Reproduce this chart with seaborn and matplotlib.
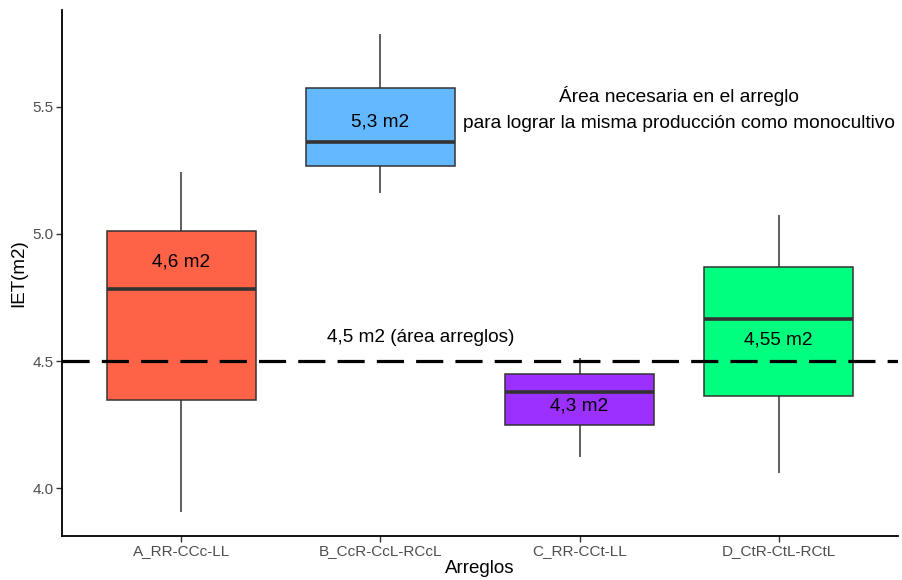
import matplotlib
matplotlib.use("Agg")
import matplotlib.pyplot as plt
import seaborn as sns
import pandas as pd

categories = ["A_RR-CCc-LL", "B_CcR-CcL-RCcL", "C_RR-CCt-LL", "D_CtR-CtL-RCtL"]
# five-number summaries: min, q1, median, q3, max
vals_A = [3.905, 4.345, 4.784, 5.012, 5.242]
vals_B = [5.163, 5.266, 5.362, 5.575, 5.787]
vals_C = [4.123, 4.250, 4.380, 4.448, 4.514]
vals_D = [4.060, 4.363, 4.667, 4.869, 5.073]
colors = ["#FF6347", "#63B8FF", "#9B30FF", "#00FF7F"]
box_labels = ["4,6 m2", "5,3 m2", "4,3 m2", "4,55 m2"]
box_label_y = [4.89, 5.44, 4.323, 4.583]
ref_value = 4.5
ref_label = "4,5 m2 (área arreglos)"
note_text = "Área necesaria en el arreglo\npara lograr la misma producción como monocultivo"

rows = []
for cat, v in zip(categories, [vals_A, vals_B, vals_C, vals_D]):
    for x in v:
        rows.append({"Arreglos": cat, "IET": x})
df = pd.DataFrame(rows)

sns.set_theme(style="white")
plt.rcParams["font.family"] = ["Liberation Sans", "DejaVu Sans"]

fig = plt.figure(figsize=(9.02, 5.8), dpi=100)
ax = fig.add_axes([62/902, 44/580, 836/902, 526/580])

sns.boxplot(data=df, x="Arreglos", y="IET", hue="Arreglos", order=categories,
            hue_order=categories, palette=colors, saturation=1, width=0.75,
            whis=(0, 100), showcaps=False, showfliers=False, linecolor="#333333",
            linewidth=1.1, medianprops=dict(linewidth=2.6, color="#333333"),
            legend=False, ax=ax)

ax.axhline(ref_value, color="black", lw=2.3, dashes=(8.5, 3.8), zorder=5)

for i, (t, y) in enumerate(zip(box_labels, box_label_y)):
    ax.text(i, y, t, ha="center", va="center", fontsize=13.7, color="black", zorder=6)
ax.text(1.2, 4.594, ref_label, ha="center", va="center", fontsize=13.7, color="black")
ax.text(2.5, 5.49, note_text, ha="center", va="center", fontsize=13.8, color="black",
        linespacing=1.7)

ax.set_xlim(-0.6, 3.6)
ax.set_ylim(3.812, 5.881)
ax.set_yticks([4.0, 4.5, 5.0, 5.5])
ax.set_yticklabels(["4.0", "4.5", "5.0", "5.5"])
ax.set_xlabel("Arreglos", fontsize=13.5, color="black", labelpad=1)
ax.set_ylabel("IET(m2)", fontsize=13.5, color="black", labelpad=4)
ax.tick_params(axis="both", which="both", length=4, width=1, color="#333333",
               labelcolor="#4D4D4D", labelsize=11, direction="out", pad=2,
               bottom=True, left=True)
for s in ["top", "right"]:
    ax.spines[s].set_visible(False)
for s in ["left", "bottom"]:
    ax.spines[s].set_color("black")
    ax.spines[s].set_linewidth(1.3)

fig.savefig("out.png", dpi=100)
